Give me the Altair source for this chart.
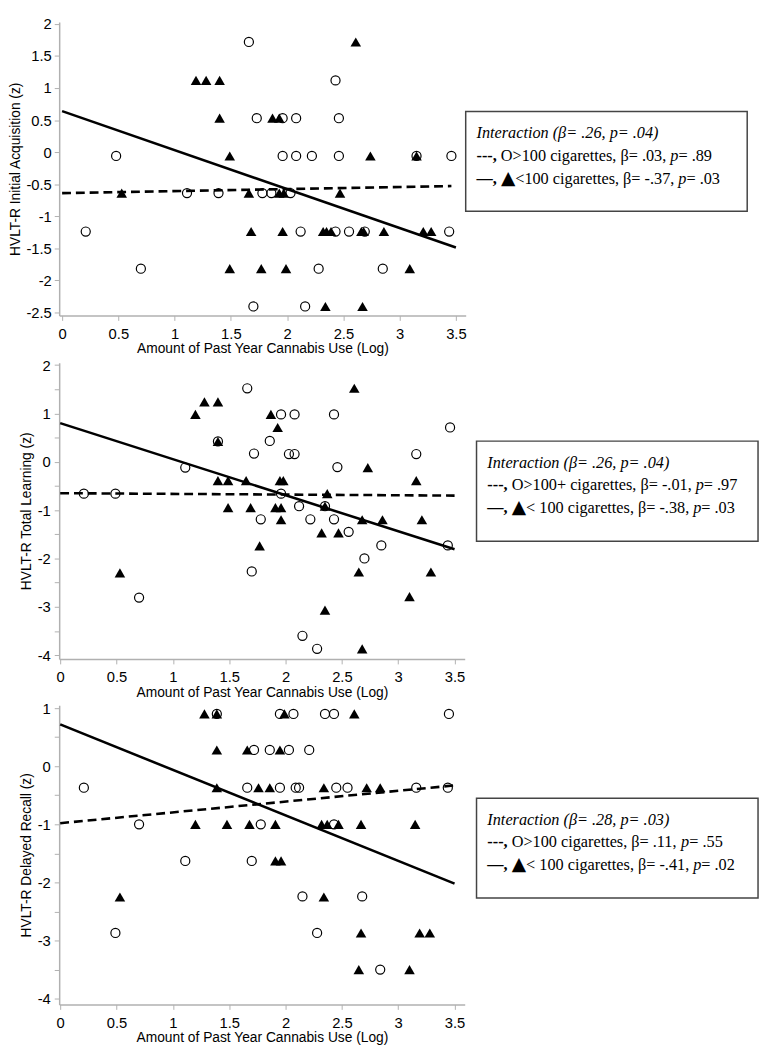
import altair as alt
import pandas as pd

# ------------------------------------------------------------------ data
# Panel 1 : HVLT-R Initial Acquisition
P1_CIRC_X = [1.66, 2.43, 1.73, 1.96, 2.08, 2.46, 0.48, 1.96, 2.08, 2.22, 2.46, 3.15, 3.46,
             1.11, 1.39, 1.78, 1.86, 2.03, 0.21, 2.12, 2.43, 2.55, 2.69, 3.44,
             0.70, 2.28, 2.85, 1.70, 2.16]
P1_CIRC_Y = [1.72, 1.12, 0.53, 0.53, 0.53, 0.53, -0.06, -0.06, -0.06, -0.06, -0.06, -0.06, -0.06,
             -0.64, -0.64, -0.64, -0.64, -0.64, -1.24, -1.24, -1.24, -1.24, -1.24, -1.24,
             -1.82, -1.82, -1.82, -2.41, -2.41]
P1_TRI_X = [2.61, 1.19, 1.28, 1.40, 1.40, 1.87, 1.93, 1.49, 2.74, 3.15,
            0.53, 1.66, 1.93, 1.97, 2.47,
            1.68, 1.96, 2.32, 2.35, 2.39, 2.66, 2.68, 2.86, 3.21, 3.28,
            1.49, 1.77, 1.99, 3.09, 2.34, 2.67]
P1_TRI_Y = [1.72, 1.12, 1.12, 1.12, 0.53, 0.53, 0.53, -0.06, -0.06, -0.06,
            -0.64, -0.64, -0.64, -0.64, -0.64,
            -1.24, -1.24, -1.24, -1.24, -1.24, -1.24, -1.24, -1.24, -1.24, -1.24,
            -1.82, -1.82, -1.82, -1.82, -2.41, -2.41]
P1_SOLID_X = [0.0, 3.5]
P1_SOLID_Y = [0.64, -1.49]
P1_DASH_X = [0.0, 3.46]
P1_DASH_Y = [-0.64, -0.53]

# Panel 2 : HVLT-R Total Learning
P2_CIRC_X = [1.66, 1.96, 2.08, 2.43, 3.46, 1.40, 1.86, 1.72, 2.03, 2.08, 3.16, 1.11, 2.46,
             0.21, 0.49, 1.96, 2.12, 2.35, 1.78, 2.22, 2.43, 2.56, 2.85, 3.44, 2.70,
             1.70, 0.70, 2.15, 2.28]
P2_CIRC_Y = [1.52, 0.98, 0.98, 0.98, 0.71, 0.42, 0.43, 0.17, 0.16, 0.16, 0.16, -0.12, -0.11,
             -0.66, -0.66, -0.66, -0.92, -0.92, -1.19, -1.19, -1.19, -1.45, -1.73, -1.73, -2.00,
             -2.27, -2.81, -3.60, -3.87]
P2_TRI_X = [2.61, 1.28, 1.40, 1.20, 1.87, 1.93, 1.40, 2.73,
            1.40, 1.49, 1.65, 1.95, 1.98, 3.16, 2.37,
            1.49, 1.69, 1.91, 1.96, 2.35, 1.96, 2.68, 2.86, 3.21,
            2.32, 2.47, 1.77, 0.53, 2.65, 3.29, 3.10, 2.35, 2.68]
P2_TRI_Y = [1.52, 1.24, 1.24, 0.98, 0.98, 0.71, 0.42, -0.12,
            -0.39, -0.39, -0.39, -0.39, -0.39, -0.39, -0.66,
            -0.95, -0.95, -0.95, -0.95, -0.92, -1.20, -1.20, -1.20, -1.20,
            -1.47, -1.47, -1.74, -2.30, -2.28, -2.28, -2.79, -3.07, -3.87]
P2_SOLID_X = [0.0, 3.5]
P2_SOLID_Y = [0.80, -1.81]
P2_DASH_X = [0.0, 3.5]
P2_DASH_Y = [-0.65, -0.70]

# Panel 3 : HVLT-R Delayed Recall
P3_CIRC_X = [1.39, 1.95, 2.07, 2.35, 2.43, 3.45, 1.72, 1.86, 2.03, 2.21,
             0.21, 1.66, 1.95, 2.09, 2.12, 2.45, 2.55, 3.16, 3.44,
             0.70, 1.78, 2.43, 1.11, 1.70, 2.15, 2.68, 0.49, 2.28, 2.84]
P3_CIRC_Y = [0.90, 0.90, 0.90, 0.90, 0.90, 0.90, 0.28, 0.28, 0.28, 0.28,
             -0.37, -0.37, -0.37, -0.37, -0.37, -0.37, -0.37, -0.37, -0.37,
             -1.00, -1.00, -1.00, -1.63, -1.63, -2.24, -2.24, -2.87, -2.87, -3.50]
P3_TRI_X = [1.28, 1.39, 1.99, 2.61, 1.39, 1.66, 1.95,
            1.39, 1.76, 1.86, 2.34, 2.72, 2.84,
            1.20, 1.48, 1.68, 1.91, 2.32, 2.37, 2.47, 2.67, 3.15,
            1.91, 1.96, 0.53, 2.34, 2.67, 3.19, 3.28, 2.65, 3.10]
P3_TRI_Y = [0.90, 0.90, 0.90, 0.90, 0.28, 0.28, 0.28,
            -0.37, -0.37, -0.37, -0.37, -0.37, -0.37,
            -1.00, -1.00, -1.00, -1.00, -1.00, -1.00, -1.00, -1.00, -1.00,
            -1.63, -1.63, -2.25, -2.25, -2.87, -2.87, -2.87, -3.50, -3.50]
P3_SOLID_X = [0.0, 3.5]
P3_SOLID_Y = [0.72, -2.02]
P3_DASH_X = [0.0, 3.5]
P3_DASH_Y = [-0.98, -0.33]

X_TICKS = [0, 0.5, 1, 1.5, 2, 2.5, 3, 3.5]
X_TITLE = "Amount of Past Year Cannabis Use (Log)"
Y_TITLES = ["HVLT-R Initial Acquisition (z)", "HVLT-R Total Learning (z)",
            "HVLT-R Delayed Recall (z)"]
P1_Y_TICKS = [-2.5, -2, -1.5, -1, -0.5, 0, 0.5, 1, 1.5, 2]
P2_Y_TICKS = [-4, -3.5, -3, -2.5, -2, -1.5, -1, -0.5, 0, 0.5, 1, 1.5, 2]
P3_Y_TICKS = [-4, -3.5, -3, -2.5, -2, -1.5, -1, -0.5, 0, 0.5, 1]

LEGENDS = [
    ["Interaction (β= .26, p= .04)",
     [("---,", "bold"), (" O>100 cigarettes, β= .03, ", "reg"), ("p", "ital"), ("= .89", "reg")],
     [("—,", "bold"), (" ", "reg"), ("▲", "tri"), ("<100 cigarettes, β= -.37, ", "reg"),
      ("p", "ital"), ("= .03", "reg")]],
    ["Interaction (β= .26, p= .04)",
     [("---,", "bold"), (" O>100+ cigarettes, β= -.01, ", "reg"), ("p", "ital"), ("= .97", "reg")],
     [("—,", "bold"), (" ", "reg"), ("▲", "tri"), ("< 100 cigarettes, β= -.38, ", "reg"),
      ("p", "ital"), ("= .03", "reg")]],
    ["Interaction (β= .28, p= .03)",
     [("---,", "bold"), (" O>100 cigarettes, β= .11, ", "reg"), ("p", "ital"), ("= .55", "reg")],
     [("—,", "bold"), (" ", "reg"), ("▲", "tri"), ("< 100 cigarettes, β= -.41, ", "reg"),
      ("p", "ital"), ("= .02", "reg")]],
]

# ------------------------------------------------------------------ styling / layout
SANS = "Liberation Sans"
SERIF = "Liberation Serif"
LEG_SIZE = 16.5
TRI_SIZE = 19

REG_W = {' ': 250, ',': 250, '.': 250, '-': 333, '=': 564, '<': 564, '>': 564, '+': 564,
         'O': 722, 'a': 444, 'c': 444, 'e': 444, 'g': 500, 'i': 278, 'r': 333, 's': 389,
         't': 278, 'β': 500}
BOLD_W = {'-': 333, ',': 250, '—': 1000, ' ': 250}
ITAL_W = {'p': 500}


def seg_width(text, kind):
    if kind == "tri":
        return 0.767 * TRI_SIZE * len(text)
    table = {"reg": REG_W, "bold": BOLD_W, "ital": ITAL_W}[kind]
    return sum(table.get(c, 500) for c in text) / 1000.0 * LEG_SIZE


def txt(s, x, y, font, size, style="normal", weight="normal"):
    return alt.Chart(pd.DataFrame({"t": [s]})).mark_text(
        font=font, fontSize=size, fontStyle=style, fontWeight=weight,
        align="left", baseline="alphabetic", color="black"
    ).encode(x=alt.value(x), y=alt.value(y), text="t:N")


def legend_layers(leg, box):
    bx0, bx1, by0, by1 = box
    rect = alt.Chart(pd.DataFrame({"a": [0]})).mark_rect(
        fill="white", stroke="#444444", strokeWidth=1.5
    ).encode(x=alt.value(bx0), x2=alt.value(bx1), y=alt.value(by0), y2=alt.value(by1))
    out = [rect]
    tx = bx0 + 11
    base = [by0 + 27, by0 + 50, by0 + 73.5]
    out.append(txt(leg[0], tx, base[0], SERIF, LEG_SIZE, style="italic"))
    for li, segs in enumerate(leg[1:]):
        x = tx
        y = base[li + 1]
        for text, kind in segs:
            lead = len(text) - len(text.lstrip(" "))
            shown = text.strip(" ")
            if shown:
                sx = x + seg_width(" " * lead, "reg")
                if kind == "reg":
                    out.append(txt(shown, sx, y, SERIF, LEG_SIZE))
                elif kind == "bold":
                    out.append(txt(shown, sx, y, SERIF, LEG_SIZE, weight="bold"))
                elif kind == "ital":
                    out.append(txt(shown, sx, y, SERIF, LEG_SIZE, style="italic"))
                else:
                    out.append(txt(shown, sx, y, "DejaVu Sans", TRI_SIZE))
            x += seg_width(text, kind)
    return out


def panel(cx, cy, tx_, ty_, sx, sy, dx, dy, ytitle, ydom, yticks, xdom, W, H,
          lp, tp, int_only, leg, box):
    ylabel = ("datum.value % 1 === 0 ? toString(datum.value) : ''" if int_only
              else "toString(datum.value)")
    xenc = alt.X("x:Q", scale=alt.Scale(domain=xdom, nice=False, zero=False),
                 axis=alt.Axis(values=X_TICKS, title=X_TITLE,
                               labelExpr="toString(datum.value)",
                               labelPadding=6, titlePadding=1))
    yenc = alt.Y("y:Q", scale=alt.Scale(domain=ydom, nice=False, zero=False),
                 axis=alt.Axis(values=yticks, title=ytitle, labelExpr=ylabel,
                               labelPadding=lp, titlePadding=tp))
    solid = alt.Chart(pd.DataFrame({"x": sx, "y": sy})).mark_line(
        color="black", strokeWidth=2.6).encode(x=xenc, y=yenc)
    dashed = alt.Chart(pd.DataFrame({"x": dx, "y": dy})).mark_line(
        color="black", strokeWidth=2.6, strokeDash=[9, 5]).encode(x=xenc, y=yenc)
    circ = alt.Chart(pd.DataFrame({"x": cx, "y": cy})).mark_point(
        shape="circle", filled=False, color="black", strokeWidth=1.2, size=85,
        opacity=1).encode(x=xenc, y=yenc)
    tri = alt.Chart(pd.DataFrame({"x": tx_, "y": ty_})).mark_point(
        shape="triangle-up", filled=True, color="black", size=115,
        opacity=1).encode(x=xenc, y=yenc)
    layers = [solid, dashed, circ, tri] + legend_layers(leg, box)
    return alt.layer(*layers).properties(width=W, height=H)


p1 = panel(P1_CIRC_X, P1_CIRC_Y, P1_TRI_X, P1_TRI_Y, P1_SOLID_X, P1_SOLID_Y,
           P1_DASH_X, P1_DASH_Y, Y_TITLES[0], [-2.55, 2.03], P1_Y_TICKS,
           [-0.026, 3.587], 413, 298, 3, 3, False, LEGENDS[0],
           (413, 699, 90.7, 192.2))
p2 = panel(P2_CIRC_X, P2_CIRC_Y, P2_TRI_X, P2_TRI_Y, P2_SOLID_X, P2_SOLID_Y,
           P2_DASH_X, P2_DASH_Y, Y_TITLES[1], [-4.08, 2.05], P2_Y_TICKS,
           [-0.009, 3.59], 412, 301, 4, 4, True, LEGENDS[1],
           (424, 710, 79.7, 181.5))
p3 = panel(P3_CIRC_X, P3_CIRC_Y, P3_TRI_X, P3_TRI_Y, P3_SOLID_X, P3_SOLID_Y,
           P3_DASH_X, P3_DASH_Y, Y_TITLES[2], [-4.1, 1.05], P3_Y_TICKS,
           [-0.009, 3.59], 412, 304, 4, 4, True, LEGENDS[2],
           (424, 710, 94.4, 195.9))

chart = alt.concat(p1, p2, p3, columns=1, spacing=0, align="none").properties(
    padding=0
).configure_view(stroke="transparent").configure_axis(
    domainColor="#b0b0b0", tickColor="#b0b0b0", domainWidth=1.5, tickWidth=1,
    tickSize=5, labelFont=SANS, labelFontSize=15, labelColor="black",
    titleFont=SANS, titleFontSize=14, titleFontWeight="normal", titleColor="black",
    grid=False, labelFlush=False, labelOverlap=False
)

chart.save("out.html", embed_options={"renderer": "svg", "actions": False})
